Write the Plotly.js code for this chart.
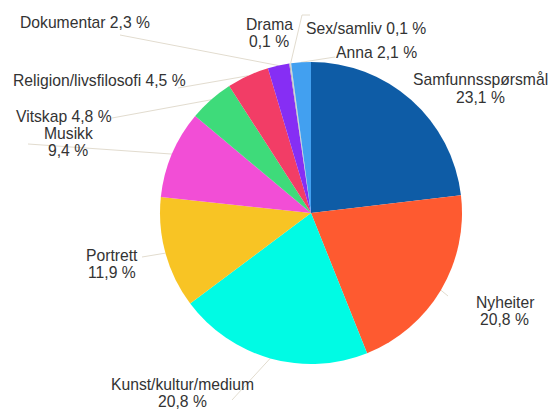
<!DOCTYPE html>
<html><head><meta charset="utf-8">
<script src="https://cdn.plot.ly/plotly-3.0.1.min.js"></script>
<style>html,body{margin:0;padding:0;background:#fff}#c{width:549px;height:410px}</style>
</head><body><div id="c"></div>
<script>
const categories = ["Samfunnsspørsmål","Nyheiter","Kunst/kultur/medium","Portrett","Musikk","Vitskap","Religion/livsfilosofi","Dokumentar","Drama","Sex/samliv","Anna"];
const values = [23.1,20.8,20.8,11.9,9.4,4.8,4.5,2.3,0.1,0.1,2.1];
const valueLabels = ["23,1 %","20,8 %","20,8 %","11,9 %","9,4 %","4,8 %","4,5 %","2,3 %","0,1 %","0,1 %","2,1 %"];
const colors = ["#0e5ca6","#fe5a30","#00fbe4","#f8c424","#f24ed6","#3edb7a","#f23d66","#862ef4","#b0b0b0","#d0d0d0","#42a0f0"];

// layout: label placement in pixels (name line, value line, one-line flag) and leader-line anchor points
const W = 549, H = 410, CX = 311, CY = 213, R = 151;
const labelPos = [
  {x:480,y:80,two:true},
  {x:505,y:302,two:true},
  {x:182,y:384,two:true},
  {x:112,y:255,two:true},
  {x:68,y:133,two:true},
  {x:64,y:116,two:false},
  {x:99,y:81,two:false},
  {x:85,y:22,two:false},
  {x:269,y:24,two:true},
  {x:366,y:29,two:false},
  {x:376,y:52,two:false}
];
const leader = [
  null,
  [[448,296]],
  [[232,400]],
  [[142,257]],
  [[28,144]],
  [[112,118]],
  [[178,88]],
  [[120,35]],
  null,
  [[302,15],[310,15]],
  [[335,57]]
];
const LINE = 17.5;
const font = {family:"Liberation Sans, Arial, sans-serif", size:15.7, color:"#333333"};
const px = x => x / W, py = y => 1 - y / H;

const total = values.reduce((a,b)=>a+b,0);
const annotations = [], shapes = [];
let cum = 0;
values.forEach((v,i) => {
  const mid = (cum + v/2) / total * 2 * Math.PI;
  cum += v;
  const ex = CX + R * Math.sin(mid), ey = CY - R * Math.cos(mid);
  const L = labelPos[i];
  if (L.two) {
    annotations.push({text:categories[i], x:px(L.x), y:py(L.y)});
    annotations.push({text:valueLabels[i], x:px(L.x), y:py(L.y + LINE)});
  } else {
    annotations.push({text:categories[i] + " " + valueLabels[i], x:px(L.x), y:py(L.y)});
  }
  if (leader[i]) {
    let d = "M " + px(ex) + " " + py(ey);
    leader[i].forEach(p => { d += " L " + px(p[0]) + " " + py(p[1]); });
    shapes.push({type:"path", xref:"paper", yref:"paper", path:d, line:{color:"#e2dccf", width:1}, layer:"below"});
  }
});
annotations.forEach(a => { a.xref="paper"; a.yref="paper"; a.showarrow=false; a.xanchor="center"; a.yanchor="middle"; a.borderpad=0; a.font=font; });

const data = [{
  type:"pie", labels:categories, values:values, sort:false, direction:"clockwise", rotation:0,
  marker:{colors:colors, line:{width:0}}, textinfo:"none", hoverinfo:"label+percent",
  domain:{x:[(CX-R)/W,(CX+R)/W], y:[1-(CY+R)/H, 1-(CY-R)/H]}
}];
const layout = {
  width:W, height:H, margin:{l:0,r:0,t:0,b:0}, showlegend:false,
  paper_bgcolor:"#ffffff", annotations:annotations, shapes:shapes
};
Plotly.newPlot("c", data, layout, {displayModeBar:false, staticPlot:true});
</script></body></html>
